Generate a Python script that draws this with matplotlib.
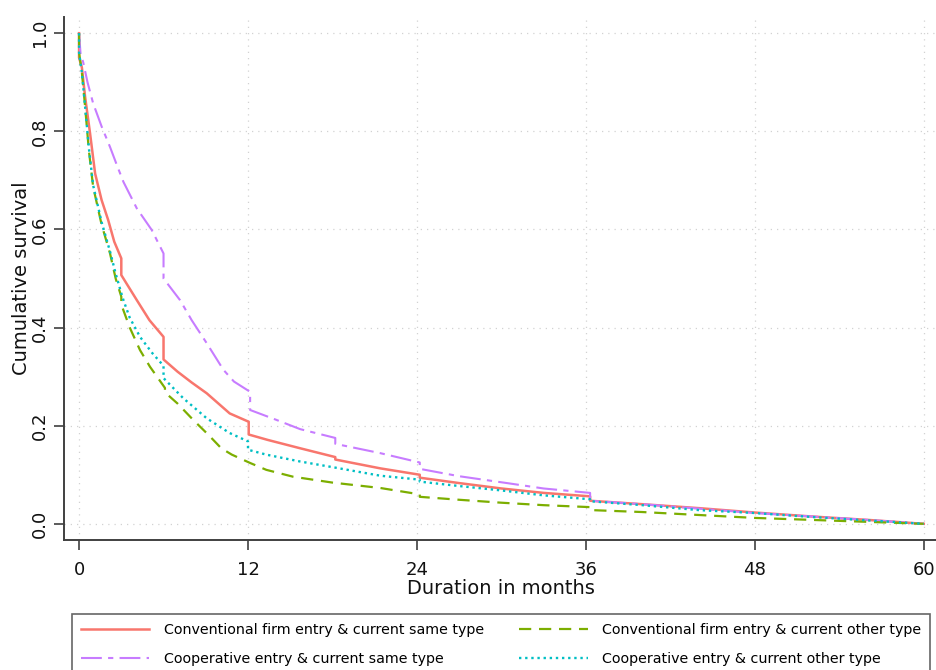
"""Kaplan-Meier style survival curves by entry type and current type."""
import matplotlib
matplotlib.use("Agg")
import matplotlib.pyplot as plt

# months / cumulative survival (repeated x = KM drop)
conv_same_x = [0, 0, 0.2, 0.43, 0.78, 1.14, 1.6, 2.07, 2.5, 3.0, 3.0, 4.1, 5.0, 6.0, 6.0,
               7, 8, 9.07, 10.7, 12.05, 12.05, 13.4, 15.7, 18.2, 18.2, 21.4, 24.2, 24.2,
               27, 30, 33, 36.3, 36.3, 40, 44, 48, 52, 56, 60]
conv_same_y = [1.0, 0.95, 0.93, 0.87, 0.796, 0.714, 0.66, 0.619, 0.575, 0.541, 0.507, 0.456,
               0.415, 0.381, 0.335, 0.31, 0.288, 0.266, 0.225, 0.208, 0.182, 0.171,
               0.154, 0.136, 0.131, 0.113, 0.100, 0.094, 0.083, 0.072, 0.063, 0.056, 0.047,
               0.040, 0.032, 0.023, 0.015, 0.008, 0.0]

conv_other_x = [0, 0, 0.2, 0.43, 0.7, 1.0, 1.6, 2.2, 2.6, 3.0, 3.0, 3.6, 4.33, 5.04, 6.1,
                6.1, 7, 8.1, 9.2, 10.1, 10.85, 12.15, 13.3, 15.2, 18, 21.4, 24.2, 24.2,
                27, 30, 33, 36.3, 36.3, 40, 44, 48, 52, 56, 60]
conv_other_y = [1.0, 0.96, 0.92, 0.85, 0.76, 0.687, 0.61, 0.551, 0.50, 0.463, 0.447, 0.40,
                0.354, 0.32, 0.277, 0.268, 0.245, 0.212, 0.181, 0.154, 0.141, 0.124, 0.11,
                0.096, 0.084, 0.073, 0.060, 0.055, 0.049, 0.043, 0.038, 0.034, 0.028,
                0.024, 0.018, 0.012, 0.008, 0.004, 0.0]

coop_same_x = [0, 0.1, 0.3, 0.6, 1.0, 1.6, 2.2, 2.7, 3.15, 4.1, 5.16, 6.0, 6.0, 7.17, 8,
               9.07, 10.25, 11, 12.15, 12.15, 14, 15.7, 18.2, 18.2, 21.4, 24.2, 24.2, 27,
               30.4, 33, 36.3, 36.3, 40, 44, 48, 52, 56, 60]
coop_same_y = [1.0, 0.96, 0.94, 0.90, 0.857, 0.81, 0.768, 0.73, 0.697, 0.643, 0.599, 0.551,
               0.50, 0.456, 0.415, 0.368, 0.314, 0.29, 0.269, 0.232, 0.212, 0.193, 0.175,
               0.163, 0.144, 0.125, 0.112, 0.097, 0.083, 0.072, 0.063, 0.047, 0.040,
               0.031, 0.022, 0.015, 0.008, 0.0]

coop_other_x = [0, 0, 0.2, 0.43, 0.7, 1.0, 1.6, 2.2, 2.6, 3.0, 3.15, 3.6, 4.33, 5.2, 6.0,
                6.0, 7.4, 9.07, 10.7, 12.0, 12.0, 13.3, 15.7, 18.3, 21.4, 24.2, 24.2,
                27, 30, 33, 36.3, 36.3, 40, 44, 48, 52, 56, 60]
coop_other_y = [1.0, 0.96, 0.92, 0.85, 0.765, 0.69, 0.615, 0.555, 0.51, 0.47, 0.456, 0.42,
                0.381, 0.348, 0.322, 0.297, 0.256, 0.215, 0.185, 0.168, 0.151, 0.141,
                0.127, 0.114, 0.098, 0.090, 0.086, 0.077, 0.068, 0.058, 0.050,
                0.046, 0.038, 0.028, 0.022, 0.014, 0.007, 0.0]

x_ticks = [0, 12, 24, 36, 48, 60]
y_ticks = [0.0, 0.2, 0.4, 0.6, 0.8, 1.0]

labels = ["Conventional firm entry & current same type",
          "Cooperative entry & current same type",
          "Conventional firm entry & current other type",
          "Cooperative entry & current other type"]

AXIS_GREY = "#404040"

fig = plt.figure(figsize=(9.37, 6.70), dpi=100)
ax = fig.add_axes([64 / 937, 1 - 540 / 670, 1 - 64 / 937, (540 - 17) / 670])

l_red, = ax.plot(conv_same_x, conv_same_y, color="#F8766D", lw=1.8, ls="-")
l_purple, = ax.plot(coop_same_x, coop_same_y, color="#C77CFF", lw=1.5,
                    dashes=(10, 3, 2.5, 3))
l_green, = ax.plot(conv_other_x, conv_other_y, color="#7CAE00", lw=1.6,
                   dashes=(5.5, 3.5))
l_cyan, = ax.plot(coop_other_x, coop_other_y, color="#00BFC4", lw=1.7,
                  dashes=(1.0, 1.6))

ax.set_xlim(-1.07, 60.94)
ax.set_ylim(-0.033, 1.033)
ax.set_xticks(x_ticks)
ax.set_yticks(y_ticks)
ax.set_yticklabels([f"{v:.1f}" for v in y_ticks], rotation=90, va="center")
ax.grid(True, ls=(0, (1, 4)), color="#d2d2d2", lw=0.9)
ax.set_axisbelow(True)

for side in ("top", "right"):
    ax.spines[side].set_visible(False)
for side in ("left", "bottom"):
    ax.spines[side].set_color(AXIS_GREY)
    ax.spines[side].set_linewidth(1.4)
ax.tick_params(direction="out", length=7, width=1.2, color=AXIS_GREY,
               labelsize=13, labelcolor="#111111")
ax.tick_params(axis="x", pad=8)
ax.tick_params(axis="y", pad=4)

ax.set_xlabel("Duration in months", fontsize=14, labelpad=0, color="#111111")
ax.set_ylabel("Cumulative survival", fontsize=14, labelpad=0, color="#111111")

leg = fig.legend([l_red, l_purple, l_green, l_cyan], labels, ncol=2,
                 loc="upper left",
                 bbox_to_anchor=(72 / 937, -0.2, (930 - 72) / 937, 0.2 + 1 - 614 / 670),
                 mode="expand", borderaxespad=0, fontsize=10.3, handlelength=4.8,
                 handletextpad=1.0, borderpad=0.6, labelspacing=1.05,
                 fancybox=False, frameon=True)
leg.get_frame().set_edgecolor(AXIS_GREY)
leg.get_frame().set_linewidth(1.2)

fig.savefig("out.png", dpi=100)
